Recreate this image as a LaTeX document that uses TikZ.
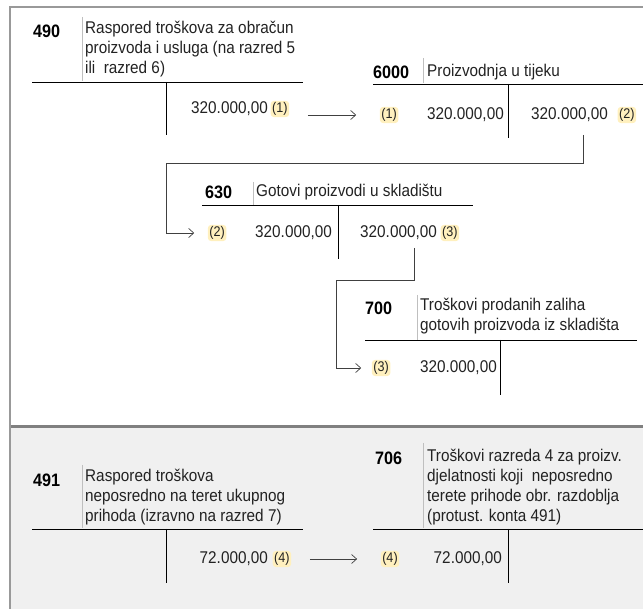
\documentclass[tikz,border=0pt]{standalone}
\usepackage{fontspec}
\setmainfont{Liberation Sans}[FakeStretch=0.9]
\usepackage{tikz}
\usetikzlibrary{arrows, arrows.meta}
\usetikzlibrary{positioning,calc}
\definecolor{refyellow}{RGB}{255,240,190}
\definecolor{panelgray}{RGB}{240,240,240}
\definecolor{inkgray}{RGB}{34,34,34}
\tikzstyle{arrow}=[-{Straight Barb[length=5pt,width=9pt]}, line width=0.7pt, black!75]
\tikzstyle{konto}=[inner sep=0pt, anchor=west, font=\bfseries\fontsize{18}{20}\selectfont]
\tikzstyle{naziv}=[inner sep=0pt, anchor=west, align=left, text=inkgray, font=\fontsize{17}{20}\selectfont]
\tikzstyle{iznos}=[inner sep=0pt, text=inkgray, font=\fontsize{17}{20}\selectfont]
\tikzstyle{ref}=[inner sep=1.5pt, fill=refyellow, rounded corners=3pt, text=inkgray, font=\fontsize{14}{16}\selectfont]
\tikzstyle{rule}=[line width=0.8pt]
\tikzstyle{vsep}=[draw=black!25, line width=0.6pt]

\begin{document}
\begin{tikzpicture}[x=1pt, y=-1pt]
  \useasboundingbox (0,0) rectangle (643,609);
  % frame and lower panel
  \fill [panelgray] (11,428) rectangle (643,609);
  \draw [black!40, line width=2pt] (10,609) -- (10,7) -- (643,7);
  \draw [black!50, line width=3pt] (11,427) -- (643,427);

  %%%%%%%% 490 %%%%%%%%%%%%%%%%%%%%%%%%%%%
  \node (k490)[konto] at (33,31) {490};
  \node (n490)[naziv] at (85,49) {Raspored troškova za obračun\\proizvoda i usluga (na razred 5\\ili~ razred 6)};
  \draw [vsep] (82,17) -- (82,81);
  \draw [rule] (32,82) -- (303,82);
  \draw [rule] (166,82) -- (166,135);
  \node (p490)[iznos, anchor=east] at (268,109) {320.000,00};
  \node [ref, right=2.5pt of p490] (r1a) {(1)};

  %%%%%%%% 6000 %%%%%%%%%%%%%%%%%%%%%%%%%%
  \node (k6000)[konto] at (373,72) {6000};
  \node (n6000)[naziv] at (427,72) {Proizvodnja u tijeku};
  \draw [vsep] (423,58) -- (423,83);
  \draw [rule] (373,84) -- (643,84);
  \draw [rule] (508,84) -- (508,138);
  \node (d6000)[iznos, anchor=west] at (427,115) {320.000,00};
  \node (p6000)[iznos, anchor=east] at (608,115) {320.000,00};
  \node [ref, left=28.5pt of d6000] (r1b) {(1)};
  \node [ref, right=9.5pt of p6000] (r2a) {(2)};

  %%%%%%%% 630 %%%%%%%%%%%%%%%%%%%%%%%%%%%
  \node (k630)[konto] at (205,192) {630};
  \node (n630)[naziv] at (256,192) {Gotovi proizvodi u skladištu};
  \draw [vsep] (253,182) -- (253,205);
  \draw [rule] (202,205) -- (473,205);
  \draw [rule] (338,205) -- (338,259);
  \node (d630)[iznos, anchor=east] at (332,233) {320.000,00};
  \node (p630)[iznos, anchor=east] at (437,233) {320.000,00};
  \node [ref, left=28.5pt of d630] (r2b) {(2)};
  \node [ref, right=3.5pt of p630] (r3a) {(3)};

  %%%%%%%% 700 %%%%%%%%%%%%%%%%%%%%%%%%%%%
  \node (k700)[konto] at (365,308) {700};
  \node (n700)[naziv] at (420,316) {Troškovi prodanih zaliha\\gotovih proizvoda iz skladišta};
  \draw [vsep] (417,295) -- (417,340);
  \draw [rule] (365,340) -- (637,340);
  \draw [rule] (500,340) -- (500,395);
  \node (d700)[iznos, anchor=west] at (420,368) {320.000,00};
  \node [ref, left=29.5pt of d700] (r3b) {(3)};

  %%%%%%%% 491 %%%%%%%%%%%%%%%%%%%%%%%%%%%
  \node (k491)[konto] at (33,480) {491};
  \node (n491)[naziv] at (85,497) {Raspored troškova\\neposredno na teret ukupnog\\prihoda (izravno na razred 7)};
  \draw [vsep] (82,465) -- (82,528);
  \draw [rule] (32,529) -- (303,529);
  \draw [rule] (166,529) -- (166,583);
  \node (p491)[iznos, anchor=east] at (268,559) {72.000,00};
  \node [ref, right=4.5pt of p491] (r4a) {(4)};

  %%%%%%%% 706 %%%%%%%%%%%%%%%%%%%%%%%%%%%
  \node (k706)[konto] at (375,458) {706};
  \node (n706)[naziv] at (427,487) {Troškovi razreda 4 za proizv.\\djelatnosti koji~ neposredno\\terete prihode obr. razdoblja\\(protust. konta 491)};
  \draw [vsep] (423,443) -- (423,528);
  \draw [rule] (373,529) -- (643,529);
  \draw [rule] (508,529) -- (508,583);
  \node (d706)[iznos, anchor=east] at (502,559) {72.000,00};
  \node (r4b)[ref] at (390,559) {(4)};

  % knjizenja
  \coordinate (c2) at (583,135);
  \coordinate (c2b) at (166,163);
  \coordinate (c3) at (414,248);
  \coordinate (c3b) at (336,280);
  \draw [arrow, shorten <=18.5pt, shorten >=23.5pt] (r1a.east |- r1b) -- (r1b.west);
  \draw [arrow, shorten >=13.5pt] (c2) |- (c2b) |- (r2b.west);
  \draw [arrow, shorten >=10.5pt] (c3) |- (c3b) |- (r3b.west);
  \draw [arrow, shorten <=18.5pt, shorten >=23.5pt] (r4a.east |- r4b) -- (r4b.west);
\end{tikzpicture}
\end{document}
